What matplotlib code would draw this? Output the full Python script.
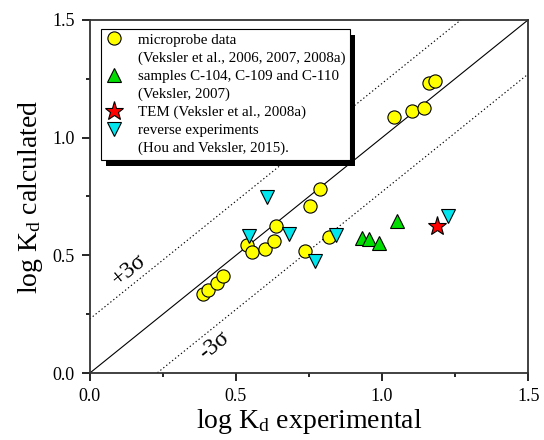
import numpy as np
import matplotlib
matplotlib.use('Agg')
import matplotlib.pyplot as plt
from matplotlib.lines import Line2D
from matplotlib.patches import Rectangle
from matplotlib.ticker import MultipleLocator

plt.rcParams['font.family'] = 'Liberation Serif'
plt.rcParams['mathtext.fontset'] = 'custom'
plt.rcParams['mathtext.rm'] = 'Liberation Serif'
plt.rcParams['mathtext.it'] = 'Liberation Serif:italic'

# microprobe data
micro_x = [0.389, 0.404, 0.435, 0.455, 0.538, 0.554, 0.599, 0.629, 0.636, 0.735,
           0.752, 0.787, 0.819, 1.042, 1.101, 1.143, 1.162, 1.180]
micro_y = [0.336, 0.353, 0.384, 0.413, 0.542, 0.516, 0.528, 0.563, 0.626, 0.520,
           0.711, 0.782, 0.580, 1.088, 1.112, 1.126, 1.233, 1.240]
# samples C-104, C-109, C-110
samp_x = [0.931, 0.954, 0.990, 1.052]
samp_y = [0.573, 0.570, 0.552, 0.644]
# TEM
tem_x = [1.187]
tem_y = [0.626]
# reverse experiments
rev_x = [0.544, 0.606, 0.682, 0.771, 0.844, 1.227]
rev_y = [0.584, 0.746, 0.590, 0.474, 0.587, 0.668]

sigma3 = 0.23

fig = plt.figure(figsize=(5.44, 4.4), dpi=100)
ax = fig.add_axes([0.165, 0.152, 0.806, 0.803])

xx = np.array([0, 1.5])
ax.plot(xx, xx, color='black', lw=0.8, zorder=1)
ax.plot(xx, xx + sigma3, color='black', lw=0.8, ls=(0, (1.2, 2.2)), zorder=1)
ax.plot(xx, xx - sigma3, color='black', lw=0.8, ls=(0, (1.2, 2.2)), zorder=1)

ax.text(0.136, 0.438, '+3σ', rotation=38.9, ha='center', va='center', fontsize=17)
ax.text(0.427, 0.119, '-3σ', rotation=38.9, ha='center', va='center', fontsize=17)

mk = dict(linestyle='none', markeredgecolor='black', markeredgewidth=0.8)
ax.plot(micro_x, micro_y, 'o', color='#ffff00', ms=9.5, zorder=3, **mk)
ax.plot(samp_x, samp_y, '^', color='#00dd00', ms=10, zorder=3, **mk)
ax.plot(tem_x, tem_y, '*', color='#ff0000', ms=14, zorder=3, **mk)
ax.plot(rev_x, rev_y, 'v', color='#00e5ee', ms=10, zorder=3, **mk)

ax.set_xlim(0, 1.5)
ax.set_ylim(0, 1.5)
ax.xaxis.set_major_locator(MultipleLocator(0.5))
ax.yaxis.set_major_locator(MultipleLocator(0.5))
ax.xaxis.set_minor_locator(MultipleLocator(0.25))
ax.yaxis.set_minor_locator(MultipleLocator(0.25))
ax.set_xticklabels([f'{v:.1f}' for v in ax.get_xticks()])
ax.set_yticklabels([f'{v:.1f}' for v in ax.get_yticks()])
ax.tick_params(which='major', direction='out', length=6, width=1.2, labelsize=13, pad=5)
ax.tick_params(which='minor', direction='out', length=3, width=1.2)
for s in ax.spines.values():
    s.set_linewidth(1.3)
    s.set_color('#333333')

ax.set_xlabel(r'log K$_\mathrm{d}$ experimental', fontsize=20, labelpad=1)
ax.set_ylabel(r'log K$_\mathrm{d}$ calculated', fontsize=20, labelpad=5)

blank = Line2D([], [], linestyle='none')
handles = [
    Line2D([], [], marker='o', color='#ffff00', ms=9.5, **mk), blank,
    Line2D([], [], marker='^', color='#00dd00', ms=10, **mk), blank,
    Line2D([], [], marker='*', color='#ff0000', ms=14, **mk),
    Line2D([], [], marker='v', color='#00e5ee', ms=10, **mk), blank,
]
labels = ['microprobe data', '(Veksler et al., 2006, 2007, 2008a)',
          'samples C-104, C-109 and C-110', '(Veksler, 2007)',
          'TEM (Veksler et al., 2008a)', 'reverse experiments',
          '(Hou and Veksler, 2015).']
leg = ax.legend(handles, labels, loc='upper left', bbox_to_anchor=(0.025, 0.975),
                borderaxespad=0, fontsize=10.8, frameon=True, fancybox=False,
                framealpha=1, edgecolor='black', handlelength=1.2,
                handletextpad=1.0, labelspacing=0.3, borderpad=0.3)
leg.get_frame().set_linewidth(0.8)
leg.set_zorder(5)

# solid black drop shadow behind the legend box
fig.canvas.draw()
bb = leg.get_window_extent()
shadow = Rectangle((bb.x0 + 5, bb.y0 - 6), bb.width, bb.height,
                   transform=None, facecolor='black', edgecolor='none', zorder=4)
fig.patches.append(shadow)
leg.remove()
fig.add_artist(leg)

fig.savefig('out.png', dpi=100)
